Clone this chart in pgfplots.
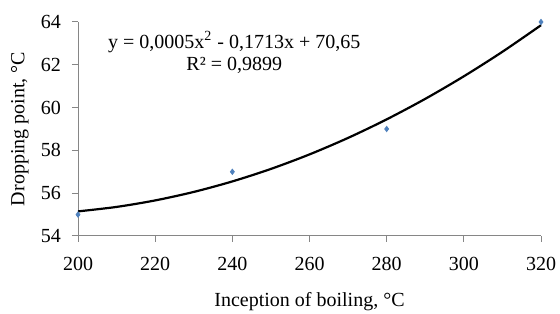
\documentclass[border=0pt]{standalone}
\usepackage{fontspec}
\setmainfont{Liberation Serif}
\usepackage{pgfplots}
\pgfplotsset{compat=1.18}
\definecolor{ptblue}{RGB}{79,129,189}
\definecolor{axgray}{RGB}{134,134,134}
\begin{document}
\begin{tikzpicture}
\begin{axis}[
  scale only axis,
  width=231.5pt, height=107pt,
  xmin=200, xmax=320, ymin=54, ymax=64,
  xtick={200,220,...,320}, ytick={54,56,...,64},
  axis lines*=left,
  axis line style={axgray, line width=0.5pt},
  tick style={axgray, line width=0.5pt},
  tick align=outside,
  major tick length=3pt,
  /pgf/number format/assume math mode=true,
  /pgf/number format/1000 sep={},
  yticklabel style={xshift=-2pt},
  xticklabel style={yshift=-4pt},
  xlabel={Inception of boiling, °C},
  ylabel={Dropping point, °C},
  xlabel style={at={(axis description cs:0.5,-0.308)}, anchor=center},
  ylabel style={at={(axis description cs:-0.1253,0.5)}, anchor=center, rotate=0},
  clip=false,
]
\addplot[black, line width=1.1pt, smooth] coordinates {
(200,55.15) (210,55.359) (220,55.6625) (230,56.059) (240,56.55) (250,57.134)
(260,57.8125) (270,58.584) (280,59.45) (290,60.409) (300,61.4625) (310,62.609) (320,63.85)};
\addplot[only marks, mark=diamond*, mark size=1.3pt, ptblue] coordinates {
(200,55) (240,57) (280,59) (320,64)};
\node[align=center, inner sep=0pt, font=\normalsize] at (axis cs:240.5,62.58) {y = 0,0005x\textsuperscript{2} - 0,1713x + 70,65\\[-1pt]R² = 0,9899};
\coordinate (sw) at (rel axis cs:0,0);
\coordinate (ne) at (rel axis cs:1,1);
\end{axis}
\pgfresetboundingbox
\path[use as bounding box] ([shift={(-39pt,-39pt)}]sw) rectangle ([shift={(9.5pt,11pt)}]ne);
\end{tikzpicture}
\end{document}
